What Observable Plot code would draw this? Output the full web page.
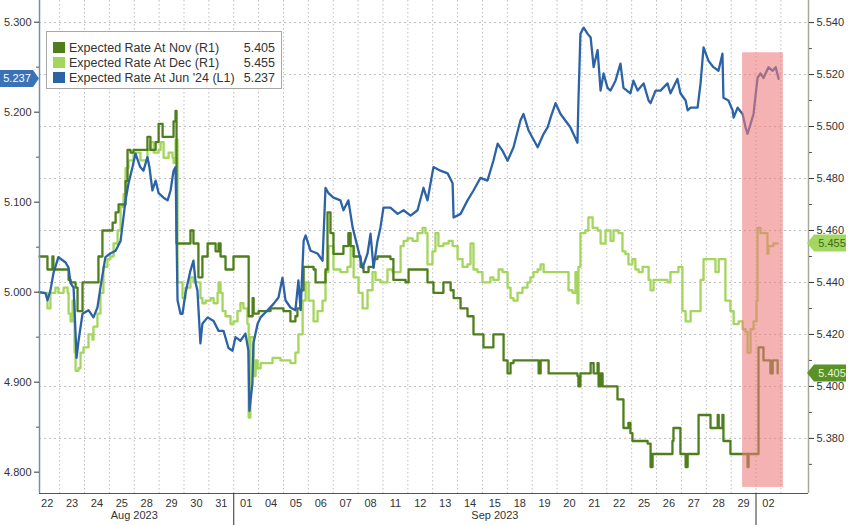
<!DOCTYPE html>
<html><head><meta charset="utf-8">
<script src="https://cdn.jsdelivr.net/npm/d3@7"></script>
<script src="https://cdn.jsdelivr.net/npm/@observablehq/plot@0.6"></script>
<style>
body{margin:0;background:#fff;}
#chart{position:relative;width:848px;height:525px;overflow:hidden;}
</style>
</head><body><div id="chart"></div>
<script>
// ---- tick labels / categories ----
const dayLabels = ["22","23","24","25","28","29","30","31",
  "01","04","05","06","07","08","11","12","13","14","15","18","19","20","21","22","25","26","27","28","29",
  "02"];
const monthNames = ["Aug 2023","Sep 2023"];
const monthFirst = [0, 8];      // first trading-day index of each labelled month
const monthLast  = [7, 28];
const monthBreaks = [7.5, 28.5];
const leftTicks  = [4.8, 4.9, 5.0, 5.1, 5.2, 5.3];
const leftMinor  = [4.85, 4.95, 5.05, 5.15, 5.25];
const rightTicks = [5.38, 5.40, 5.42, 5.44, 5.46, 5.48, 5.50, 5.52, 5.54];
const rightMinor = [5.37, 5.39, 5.41, 5.43, 5.45, 5.47, 5.49, 5.51, 5.53];

// axis extents (trading-day index on x; left L1 and right R1 value ranges)
const xDomain = [-0.31, 30.61];
const leftDomain = [4.7763, 5.3241];
const rightDomain = [5.3588, 5.5485];

// series names / last values
const seriesNames = ["Expected Rate At Nov (R1)", "Expected Rate At Dec (R1)", "Expected Rate At Jun '24 (L1)"];
const lastValues = ["5.405", "5.455", "5.237"];
const seriesColors = ["#4f7f1c", "#a4d55c", "#2c63a6"];

// highlighted window (trading-day index, left-axis values)
const highlightX = [27.96, 29.6];
const highlightY = [4.783, 5.266];

// ---- series values: [trading-day index, value] ----
const junPoints = [[-0.31,5.000],[-0.07,4.999],[0.01,4.991],[0.13,5.002],[0.25,5.021],[0.45,5.039],[0.74,5.033],[0.86,5.027],[0.94,5.010],[1.06,5.005],[1.14,4.954],[1.18,4.927],[1.26,4.946],[1.42,4.976],[1.66,4.980],[1.86,4.972],[2.02,4.983],[2.14,5.005],[2.34,5.039],[2.54,5.043],[2.75,5.046],[2.95,5.057],[3.15,5.102],[3.27,5.121],[3.43,5.139],[3.55,5.154],[3.74,5.139],[3.87,5.135],[4.03,5.150],[4.11,5.139],[4.23,5.113],[4.36,5.124],[4.48,5.110],[4.68,5.105],[4.84,5.102],[4.96,5.113],[5.08,5.135],[5.16,5.139],[5.24,4.991],[5.36,4.976],[5.44,4.976],[5.56,4.999],[5.76,5.024],[5.88,5.035],[5.97,5.010],[6.04,5.002],[6.16,4.943],[6.24,4.965],[6.45,4.972],[6.69,4.968],[6.89,4.957],[7.09,4.957],[7.29,4.938],[7.45,4.935],[7.57,4.950],[7.77,4.946],[7.97,4.954],[8.09,4.935],[8.13,4.868],[8.25,4.898],[8.29,4.943],[8.46,4.965],[8.58,4.972],[8.86,4.980],[9.10,4.987],[9.30,4.994],[9.46,5.016],[9.58,4.991],[9.78,4.983],[9.98,4.980],[10.10,5.013],[10.19,4.980],[10.31,5.057],[10.39,5.063],[10.59,5.046],[10.87,5.043],[11.07,5.035],[11.19,5.116],[11.31,5.110],[11.51,5.105],[11.79,5.102],[11.91,5.091],[12.11,5.102],[12.28,5.072],[12.48,5.050],[12.68,5.027],[12.88,5.043],[13.00,5.065],[13.12,5.027],[13.28,5.057],[13.40,5.072],[13.52,5.094],[13.80,5.094],[14.09,5.087],[14.33,5.091],[14.61,5.085],[14.89,5.091],[15.13,5.116],[15.29,5.102],[15.53,5.139],[15.81,5.135],[16.10,5.132],[16.30,5.121],[16.34,5.083],[16.62,5.087],[16.90,5.102],[17.14,5.113],[17.42,5.127],[17.70,5.124],[17.94,5.146],[18.11,5.165],[18.31,5.157],[18.51,5.146],[18.75,5.161],[19.03,5.191],[19.15,5.198],[19.35,5.180],[19.72,5.161],[19.96,5.176],[20.12,5.183],[20.24,5.194],[20.44,5.210],[20.64,5.198],[21.04,5.183],[21.32,5.166],[21.36,5.213],[21.44,5.287],[21.57,5.294],[21.73,5.287],[21.85,5.283],[21.97,5.250],[22.13,5.269],[22.25,5.224],[22.37,5.243],[22.53,5.227],[22.65,5.224],[22.85,5.235],[23.05,5.254],[23.17,5.227],[23.45,5.221],[23.57,5.235],[23.74,5.224],[23.98,5.232],[24.18,5.213],[24.26,5.210],[24.46,5.224],[24.66,5.224],[24.94,5.232],[25.06,5.221],[25.34,5.237],[25.46,5.221],[25.67,5.213],[25.75,5.202],[25.87,5.205],[26.15,5.205],[26.27,5.232],[26.39,5.272],[26.59,5.257],[26.79,5.250],[26.99,5.246],[27.15,5.265],[27.19,5.216],[27.39,5.213],[27.56,5.202],[27.60,5.194],[27.76,5.205],[27.96,5.198],[28.08,5.183],[28.16,5.176],[28.28,5.187],[28.40,5.198],[28.56,5.238],[28.68,5.243],[28.80,5.238],[29.00,5.250],[29.17,5.246],[29.29,5.250],[29.41,5.237]];

const novPoints = [[-0.31,5.450],[-0.07,5.450],[0.01,5.445],[0.13,5.445],[0.21,5.450],[0.25,5.445],[0.66,5.445],[0.86,5.441],[0.94,5.440],[1.14,5.438],[1.22,5.429],[1.34,5.429],[1.42,5.440],[1.94,5.440],[2.06,5.450],[2.22,5.460],[2.43,5.460],[2.63,5.463],[2.75,5.467],[2.87,5.470],[3.03,5.470],[3.15,5.479],[3.23,5.491],[3.35,5.490],[3.47,5.491],[3.87,5.491],[4.03,5.496],[4.15,5.491],[4.36,5.494],[4.48,5.501],[4.64,5.496],[5.04,5.496],[5.08,5.502],[5.16,5.506],[5.20,5.455],[5.64,5.455],[5.76,5.460],[5.88,5.455],[6.04,5.455],[6.08,5.442],[6.24,5.450],[6.37,5.450],[6.45,5.455],[6.69,5.455],[6.77,5.452],[6.89,5.455],[6.97,5.450],[7.17,5.445],[7.37,5.445],[7.49,5.450],[8.06,5.450],[8.10,5.427],[8.26,5.434],[8.30,5.428],[8.50,5.429],[8.98,5.430],[9.50,5.429],[9.78,5.425],[9.98,5.427],[10.06,5.430],[10.18,5.437],[10.31,5.446],[10.51,5.446],[10.71,5.445],[10.79,5.440],[11.07,5.440],[11.19,5.445],[11.27,5.467],[11.39,5.459],[11.51,5.451],[11.79,5.451],[11.91,5.454],[12.11,5.459],[12.20,5.454],[12.32,5.450],[12.60,5.446],[12.72,5.444],[12.92,5.446],[13.12,5.449],[13.28,5.450],[13.80,5.449],[13.92,5.441],[14.41,5.440],[14.53,5.445],[15.13,5.445],[15.29,5.440],[15.49,5.440],[15.53,5.436],[15.81,5.436],[15.93,5.440],[16.09,5.440],[16.22,5.437],[16.34,5.434],[16.62,5.430],[16.82,5.430],[16.90,5.427],[17.14,5.420],[17.42,5.420],[17.54,5.415],[17.82,5.415],[17.94,5.420],[18.15,5.420],[18.35,5.410],[18.51,5.405],[18.63,5.409],[18.75,5.410],[19.72,5.410],[19.76,5.405],[19.84,5.410],[20.12,5.410],[20.16,5.405],[21.04,5.405],[21.32,5.404],[21.36,5.400],[21.44,5.405],[21.77,5.405],[21.85,5.409],[21.97,5.405],[22.13,5.409],[22.17,5.400],[22.25,5.405],[22.33,5.400],[22.77,5.400],[22.93,5.395],[23.13,5.395],[23.17,5.384],[23.37,5.386],[23.45,5.382],[23.53,5.379],[24.14,5.378],[24.26,5.369],[24.34,5.374],[24.94,5.374],[25.14,5.379],[25.18,5.384],[25.34,5.384],[25.46,5.374],[25.67,5.369],[25.75,5.374],[26.07,5.374],[26.19,5.389],[26.55,5.389],[26.67,5.384],[26.79,5.384],[26.96,5.389],[27.00,5.384],[27.15,5.389],[27.19,5.379],[27.39,5.379],[27.47,5.374],[27.96,5.374],[28.16,5.369],[28.20,5.374],[28.56,5.374],[28.60,5.415],[28.68,5.415],[28.80,5.410],[29.00,5.410],[29.08,5.405],[29.17,5.410],[29.29,5.410],[29.37,5.405]];

const decPoints = [[-0.31,5.436],[0.01,5.430],[0.13,5.436],[0.33,5.438],[0.45,5.436],[0.66,5.438],[0.82,5.436],[0.86,5.428],[0.94,5.425],[1.02,5.433],[1.10,5.413],[1.14,5.406],[1.26,5.407],[1.34,5.413],[1.46,5.415],[1.66,5.420],[1.82,5.418],[1.86,5.423],[2.02,5.428],[2.14,5.436],[2.26,5.446],[2.42,5.449],[2.54,5.450],[2.67,5.455],[2.83,5.460],[2.95,5.469],[3.07,5.474],[3.15,5.484],[3.27,5.487],[3.47,5.490],[3.75,5.487],[4.03,5.491],[4.15,5.494],[4.28,5.490],[4.48,5.491],[4.56,5.494],[4.68,5.488],[4.88,5.490],[5.04,5.488],[5.08,5.486],[5.16,5.495],[5.24,5.440],[5.44,5.434],[5.56,5.438],[5.76,5.442],[5.88,5.440],[6.04,5.440],[6.16,5.434],[6.24,5.432],[6.37,5.433],[6.57,5.434],[6.69,5.432],[6.85,5.436],[6.89,5.440],[6.97,5.436],[7.05,5.429],[7.17,5.427],[7.37,5.424],[7.49,5.425],[7.65,5.429],[7.77,5.432],[7.89,5.430],[8.05,5.424],[8.10,5.388],[8.17,5.419],[8.30,5.404],[8.38,5.410],[8.46,5.407],[8.58,5.409],[8.86,5.409],[9.06,5.411],[9.26,5.411],[9.38,5.410],[9.78,5.409],[9.98,5.413],[10.10,5.420],[10.27,5.433],[10.39,5.440],[10.51,5.433],[10.71,5.425],[10.87,5.429],[11.07,5.433],[11.19,5.444],[11.31,5.454],[11.51,5.445],[11.79,5.444],[12.07,5.446],[12.20,5.454],[12.32,5.442],[12.52,5.436],[12.68,5.430],[12.88,5.437],[13.08,5.444],[13.20,5.441],[13.40,5.440],[13.68,5.445],[13.88,5.444],[14.09,5.444],[14.21,5.454],[14.33,5.456],[14.49,5.457],[14.69,5.456],[14.89,5.459],[15.09,5.461],[15.21,5.459],[15.29,5.447],[15.49,5.452],[15.61,5.459],[15.73,5.454],[15.93,5.455],[16.14,5.456],[16.30,5.454],[16.50,5.449],[16.70,5.446],[16.90,5.447],[17.02,5.455],[17.14,5.445],[17.30,5.444],[17.50,5.440],[17.70,5.440],[17.82,5.442],[17.94,5.441],[18.15,5.445],[18.31,5.444],[18.51,5.438],[18.63,5.434],[18.75,5.433],[18.91,5.436],[19.11,5.438],[19.31,5.440],[19.43,5.442],[19.55,5.444],[19.72,5.445],[19.84,5.447],[19.96,5.444],[20.92,5.444],[20.96,5.437],[21.12,5.436],[21.24,5.444],[21.32,5.432],[21.36,5.446],[21.44,5.459],[21.64,5.460],[21.76,5.465],[21.93,5.461],[22.13,5.460],[22.25,5.455],[22.45,5.460],[22.65,5.456],[22.77,5.460],[22.97,5.459],[23.13,5.452],[23.25,5.451],[23.37,5.447],[23.53,5.449],[23.65,5.445],[23.78,5.444],[23.94,5.446],[24.18,5.441],[24.26,5.437],[24.38,5.441],[24.94,5.440],[25.06,5.444],[25.26,5.444],[25.38,5.446],[25.54,5.429],[25.67,5.425],[25.87,5.429],[26.15,5.429],[26.27,5.441],[26.39,5.449],[26.79,5.449],[26.87,5.444],[27.00,5.449],[27.19,5.449],[27.27,5.433],[27.47,5.429],[27.60,5.424],[27.80,5.425],[27.96,5.422],[28.08,5.421],[28.16,5.413],[28.28,5.422],[28.40,5.425],[28.52,5.433],[28.56,5.461],[28.68,5.459],[28.88,5.459],[28.96,5.451],[29.00,5.454],[29.20,5.455],[29.37,5.455]];

// ---- build ----
const toLeft = d3.scaleLinear().domain(rightDomain).range(leftDomain);
const jun = junPoints.map(([t, v]) => ({t, y: v}));
const nov = novPoints.map(([t, v]) => ({t, y: toLeft(v)}));
const dec = decPoints.map(([t, v]) => ({t, y: toLeft(v)}));
const dayIdx = dayLabels.map((_, i) => i);
const gridX = dayLabels.map((_, i) => i + 0.5);
const months = monthNames.map((m, i) => ({m, c: (monthFirst[i] + monthLast[i]) / 2}));
const FONT = "'Liberation Sans', Arial, sans-serif";

const plot = Plot.plot({
  width: 848, height: 525,
  marginLeft: 39, marginRight: 40, marginTop: 0, marginBottom: 32,
  style: {fontFamily: FONT, fontSize: "11px", color: "#333", background: "#fff"},
  x: {domain: xDomain, axis: null},
  y: {domain: leftDomain, axis: null},
  marks: [
    Plot.ruleX(gridX, {stroke: "#bdbdbd", strokeDasharray: "1.5,2.5", strokeWidth: 1}),
    Plot.ruleY(rightTicks.map(toLeft), {stroke: "#bdbdbd", strokeDasharray: "2,3", strokeWidth: 1}),
    Plot.line(dec, {x: "t", y: "y", stroke: seriesColors[1], strokeWidth: 2.3, curve: "step-after"}),
    Plot.line(nov, {x: "t", y: "y", stroke: seriesColors[0], strokeWidth: 2.3, curve: "step-after"}),
    Plot.line(jun, {x: "t", y: "y", stroke: seriesColors[2], strokeWidth: 2.3, curve: "linear"}),
    Plot.rect([0], {x1: highlightX[0], x2: highlightX[1], y1: highlightY[0], y2: highlightY[1], fill: "#ee7b7b", fillOpacity: 0.58}),
    // axis lines
    Plot.ruleX([xDomain[0]], {stroke: "#6f8fb3", strokeWidth: 1.5}),
    Plot.ruleX([xDomain[1]], {stroke: "#a3ab94", strokeWidth: 1.5}),
    Plot.ruleY([leftDomain[0]], {stroke: "#555", strokeWidth: 1.2}),
    // left axis
    Plot.axisY(leftTicks, {anchor: "left", label: null, tickFormat: d => d.toFixed(3), tickSize: 5, tickPadding: 3, fontSize: 11, color: "#333"}),
    Plot.axisY(leftMinor, {anchor: "left", label: null, tickFormat: () => "", tickSize: 3, color: "#555"}),
    // right axis
    Plot.axisY(rightTicks.map(toLeft), {anchor: "right", label: null, tickFormat: d => toLeft.invert(d).toFixed(3), tickSize: 5, tickPadding: 3, fontSize: 11, color: "#333"}),
    Plot.axisY(rightMinor.map(toLeft), {anchor: "right", label: null, tickFormat: () => "", tickSize: 3, color: "#555"}),
    // bottom axis
    Plot.axisX(dayIdx, {anchor: "bottom", label: null, tickFormat: i => dayLabels[i], tickSize: 0, tickPadding: 6, fontSize: 11, color: "#333"}),
    Plot.axisX(monthBreaks, {anchor: "bottom", label: null, tickFormat: () => "", tickSize: 32, color: "#333"}),
    Plot.text(months, {x: "c", text: "m", frameAnchor: "bottom", dy: 25, fontSize: 11, fill: "#333"})
  ]
});
document.getElementById("chart").appendChild(plot);

// ---- value badges & legend, positioned with Plot's scales ----
const svg = d3.select(plot);
const ys = plot.scale("y");
const xs = plot.scale("x");
const xLeft = xs.apply(xDomain[0]);
const xRight = xs.apply(xDomain[1]);

function badgeLeft(val, fill, textFill) {
  const cy = ys.apply(val);
  const g = svg.append("g");
  g.append("path").attr("d", `M0,${cy-8.5}H${xLeft-6}L${xLeft},${cy}L${xLeft-6},${cy+8.5}H0Z`).attr("fill", fill);
  g.append("text").attr("x", 17).attr("y", cy).attr("dy", "0.35em").attr("text-anchor", "middle")
    .attr("font-family", FONT).attr("font-size", 11).attr("fill", textFill).text(val.toFixed(3));
}
function badgeRight(val, fill, textFill) {
  const cy = ys.apply(toLeft(val));
  const g = svg.append("g");
  g.append("path").attr("d", `M${xRight-1},${cy}L${xRight+6},${cy-8.5}H846V${cy+8.5}H${xRight+6}Z`).attr("fill", fill);
  g.append("text").attr("x", xRight + 24).attr("y", cy).attr("dy", "0.35em").attr("text-anchor", "middle")
    .attr("font-family", FONT).attr("font-size", 11).attr("fill", textFill).text(val.toFixed(3));
}
badgeLeft(+lastValues[2], "#3a72b8", "#fff");
badgeRight(+lastValues[1], "#a3d762", "#3d6a18");
badgeRight(+lastValues[0], "#5a9226", "#e8f5d8");

// legend
const lg = svg.append("g").attr("font-family", FONT).attr("font-size", 12.5).attr("fill", "#333").attr("text-anchor", "start");
lg.append("rect").attr("x", 46.5).attr("y", 31.5).attr("width", 235).attr("height", 57)
  .attr("fill", "#fff").attr("stroke", "#a8a8a8");
[0, 1, 2].forEach((k, r) => {
  const cy = 47.5 + r * 15;
  lg.append("rect").attr("x", 53).attr("y", cy - 5.5).attr("width", 12).attr("height", 11).attr("fill", seriesColors[k]);
  lg.append("text").attr("x", 69).attr("y", cy).attr("dy", "0.35em").attr("text-anchor", "start").text(seriesNames[k]);
  lg.append("text").attr("x", 275).attr("y", cy).attr("dy", "0.35em").attr("text-anchor", "end").text(lastValues[k]);
});
</script></body></html>
